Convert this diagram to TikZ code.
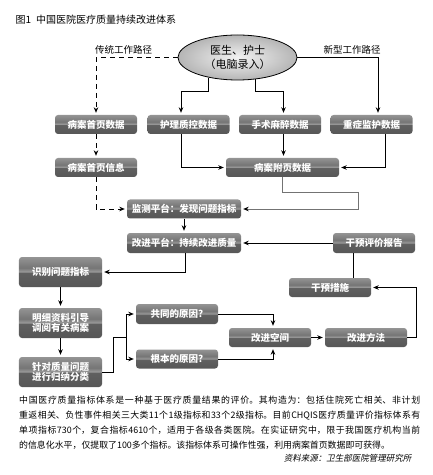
\documentclass[tikz,border=0pt]{standalone}
\usepackage{fontspec}
\setmainfont{Noto Sans CJK SC}
\newfontfamily\slantfont[FakeSlant=0.2]{Noto Sans CJK SC}
\XeTeXlinebreaklocale "zh"
\XeTeXlinebreakskip=0pt plus 2pt
\usepackage{xcolor}
\definecolor{boxtop}{gray}{0.58}
\definecolor{boxmid}{gray}{0.38}
\definecolor{boxband}{gray}{0.60}
\definecolor{boxbot}{gray}{0.34}
\definecolor{feedgray}{gray}{0.45}
\usepackage{tikz}
\usetikzlibrary{shapes.geometric,arrows.meta,calc}
\pgfdeclareverticalshading{boxshade}{100bp}{color(0bp)=(boxbot); color(25bp)=(boxbot);
  color(44bp)=(boxmid!70!boxbot); color(49bp)=(boxmid); color(50.5bp)=(boxband);
  color(57bp)=(boxmid!60!boxtop); color(75bp)=(boxtop); color(100bp)=(boxtop)}

\begin{document}
\begin{tikzpicture}[
  x=1bp, y=-1bp,
  font=\fontsize{9.5bp}{11bp}\selectfont,
  box/.style={
    rectangle, rounded corners=3bp,
    shading=boxshade, draw=none,
    minimum width=82bp, minimum height=19bp,
    inner sep=1bp, align=center,
    text=white, font=\fontsize{9.5bp}{10.5bp}\selectfont\bfseries
  },
  doctor/.style={
    ellipse, draw=black, line width=0.8bp,
    inner color=gray!10, outer color=gray!58,
    minimum width=119bp, minimum height=45bp,
    inner sep=0pt, align=center,
    font=\fontsize{11bp}{14bp}\selectfont
  },
  tag/.style={font=\fontsize{9.5bp}{11bp}\selectfont},
  link/.style={line width=0.8bp},
  arr/.style={-{Stealth[length=5.5bp,width=4.5bp]}, line width=0.8bp, shorten >=2bp},
  dashline/.style={dash pattern=on 5bp off 4bp},
  feed/.style={-{Stealth[length=5.5bp,width=4.5bp,black]}, line width=0.8bp, draw=feedgray, shorten >=2bp}
]
\useasboundingbox (0,0) rectangle (432,475);

\node[anchor=west, font=\fontsize{10bp}{12bp}\selectfont] (title) at (12,20)
  {图1\hspace{5bp}中国医院医疗质量持续改进体系};

\node[doctor] (doc) at (237.5,57.5) {医生、护士\\（电脑录入）};
\node[tag] (oldway) at (123.5,50) {传统工作路径};
\node[tag] (newway) at (352,50) {新型工作路径};

\node[box] (first) at (96,124.5) {病案首页数据};
\node[box] (nurse) at (188.5,124.5) {护理质控数据};
\node[box] (surgery) at (280,124.5) {手术麻醉数据};
\node[box] (icu) at (371.5,124.5) {重症监护数据};
\node[box] (firstinfo) at (96,167.5) {病案首页信息};
\node[box, minimum width=113bp] (attach) at (282.5,167.5) {病案附页数据};
\node[box, minimum width=114bp] (monitor) at (184,209) {监测平台：发现问题指标};
\node[box, minimum width=114bp, minimum height=20bp] (improve) at (184,243) {改进平台：持续改进质量};
\node[box, minimum height=20bp] (report) at (374,243) {干预评价报告};
\node[box, minimum width=83bp, minimum height=30bp] (identify) at (60.5,272) {识别问题指标};
\node[box] (measure) at (330,287.5) {干预措施};
\node[box, minimum width=83bp, minimum height=30bp] (detail) at (60.5,323) {明细资料引导\\调阅有关病案};
\node[box, minimum width=83bp, minimum height=30bp] (classify) at (60.5,372) {针对质量问题\\进行归纳分类};
\node[box, minimum height=20bp] (common) at (177,314) {共同的原因?};
\node[box] (root) at (177,359) {根本的原因?};
\node[box] (space) at (270,337.5) {改进空间};
\node[box] (method) at (366,337.5) {改进方法};
\coordinate (fork) at (126,337);

\draw[arr, dashline] (doc.west) -| (first.north);
\draw[arr] (doc.east) -| ([xshift=6.5bp]icu.north);
\draw[arr] (doc.215) -- ++(0,14) -| ([xshift=-7.5bp]nurse.north);
\draw[arr] (doc.309) -- ++(0,12.5) -| ([xshift=3.5bp]surgery.north);
\draw[arr, dashline] (first) -- (firstinfo);
\draw[arr] ([xshift=-7.5bp]nurse.south) |- (attach.west);
\draw[arr] ([xshift=3.5bp]surgery.south) -- ([xshift=3.5bp]surgery.south |- attach.north);
\draw[arr] ([xshift=14bp]icu.south) |- (attach.east);
\draw[arr, dashline] (firstinfo.south) |- (monitor.west);
\draw[feed] (attach.south) -- ++(0,15) -| ([xshift=117bp]monitor.east) -- (monitor.east);
\draw[arr] (monitor) -- (improve);
\draw[arr] (report) -- (improve);
\draw[arr] ([xshift=1.5bp]improve.south) |- (identify.east);
\draw[arr] (identify) -- (detail);
\draw[arr] (detail) -- (classify);
\draw[link] (classify.east) -- ++(11,0) |- (fork);
\draw[arr] (fork) |- (common.west);
\draw[arr] (fork) |- (root.west);
\draw[arr] (common.east) -| ([xshift=3bp]space.north);
\draw[arr] (root.east) -| ([xshift=3bp]space.south);
\draw[arr] (space) -- (method);
\draw[arr] (method.east) -- ++(9,0) |- (measure.east);
\draw[link] ([xshift=-21bp]report.south) -- ([xshift=-21bp]report.south |- measure.north);

\node[anchor=north west, text width=401bp, align=justify, inner sep=0pt,
  font=\fontsize{8.9bp}{15bp}\selectfont] (note) at (19,396)
  {中国医疗质量指标体系是一种基于医疗质量结果的评价。其构造为：包括住院死亡相关、非计划\linebreak
   重返相关、负性事件相关三大类11个1级指标和33个2级指标。目前CHQIS医疗质量评价指标体系有\linebreak
   单项指标730个，复合指标4610个，适用于各级各类医院。在实证研究中，限于我国医疗机构当前\linebreak
   的信息化水平，仅提取了100多个指标。该指标体系可操作性强，利用病案首页数据即可获得。};
\node[anchor=east, font=\slantfont\fontsize{8.5bp}{10bp}\selectfont] (source) at (415,458)
  {资料来源：卫生部医院管理研究所};
\end{tikzpicture}
\end{document}
